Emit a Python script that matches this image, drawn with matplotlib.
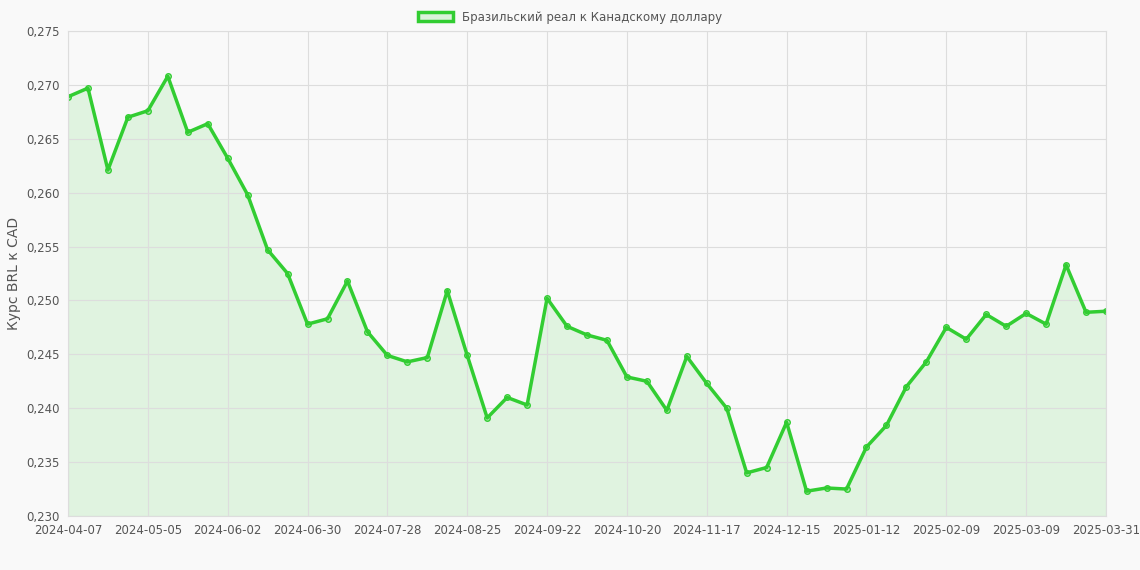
import matplotlib.pyplot as plt
from matplotlib.patches import Patch
import pandas as pd

dates = [d.strftime('%Y-%m-%d') for d in pd.date_range('2024-04-07', periods=52, freq='7D')] + ['2025-03-31']
rates = [0.2689, 0.2697, 0.2621, 0.2670, 0.2676, 0.2708, 0.2656, 0.2664, 0.2632, 0.2598,
         0.2547, 0.2525, 0.2478, 0.2483, 0.2518, 0.2471, 0.2449, 0.2443, 0.2447, 0.2509,
         0.2449, 0.2391, 0.2410, 0.2403, 0.2502, 0.2476, 0.2468, 0.2463, 0.2429, 0.2425,
         0.2398, 0.2448, 0.2423, 0.2400, 0.2340, 0.2345, 0.2387, 0.2323, 0.2326, 0.2325,
         0.2364, 0.2384, 0.2420, 0.2443, 0.2475, 0.2464, 0.2487, 0.2476, 0.2488, 0.2478,
         0.2533, 0.2489, 0.2490]

bg = '#f9f9f9'
fig = plt.figure(figsize=(11.4, 5.7), dpi=100, facecolor=bg)
ax = fig.add_axes([68/1140, 54/570, 1038/1140, 485/570], facecolor=bg)
x = list(range(len(rates)))
ax.fill_between(x, rates, 0.230, color='#32cd32', alpha=0.12, linewidth=0)
ax.plot(x, rates, color='#32cd32', linewidth=2.5, marker='o', markersize=4,
        markerfacecolor=(0.2, 0.8, 0.2, 0.3), markeredgecolor='#32cd32', markeredgewidth=1)
ax.set_xlim(0, len(rates) - 1)
ax.set_ylim(0.230, 0.275)
ticks = list(range(0, 52, 4)) + [52]
ax.set_xticks(ticks)
ax.set_xticklabels([dates[i] for i in ticks])
ax.set_yticks([0.230 + 0.005 * i for i in range(10)])
ax.set_yticklabels([f'{0.230 + 0.005 * i:.3f}'.replace('.', ',') for i in range(10)])
ax.tick_params(labelsize=8.5, colors='#555555', length=0, pad=6)
ax.grid(True, color='#dddddd', linewidth=0.8)
for s in ax.spines.values():
    s.set_color('#dddddd')
ax.set_ylabel('Курс BRL к CAD', color='#555555', fontsize=10)
handle = Patch(facecolor=(0.2, 0.8, 0.2, 0.15), edgecolor='#32cd32', linewidth=2.5,
               label='Бразильский реал к Канадскому доллару')
fig.legend(handles=[handle], loc='upper center', bbox_to_anchor=(0.5, 1.0), frameon=False,
           fontsize=8.5, handlelength=3, handleheight=0.9, labelcolor='#555555')
plt.savefig('out.png', dpi=100, facecolor=bg)
